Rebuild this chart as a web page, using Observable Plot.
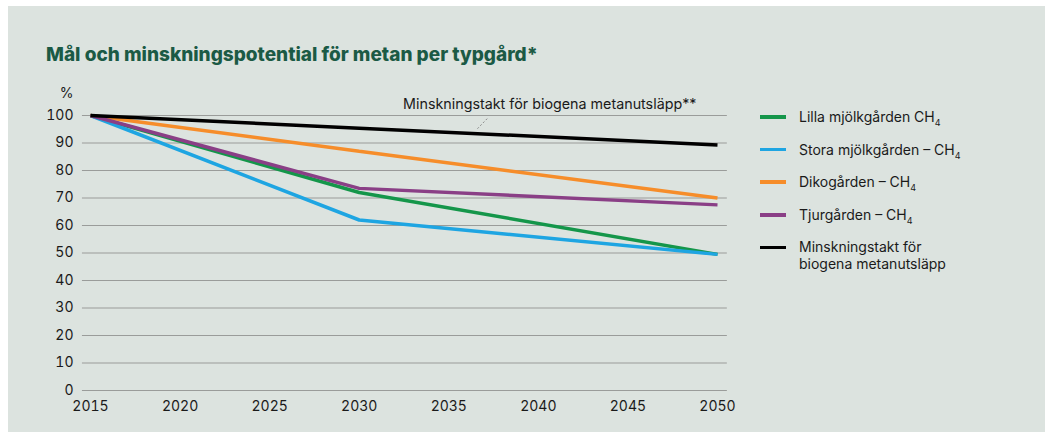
<!DOCTYPE html>
<html>
<head>
<meta charset="utf-8">
<script src="https://cdn.jsdelivr.net/npm/d3@7"></script>
<script src="https://cdn.jsdelivr.net/npm/@observablehq/plot@0.6"></script>
<style>
  html, body { margin: 0; padding: 0; background: #ffffff; }
  body { width: 1045px; height: 432px; position: relative; overflow: hidden;
         font-family: Inter, "Liberation Sans", Arial, sans-serif; }
  #panel { position: absolute; left: 8px; top: 6px; width: 1037px; height: 426px; background: #dce3df; }
  #title { position: absolute; left: 46px; top: 44px; font-size: 19px; letter-spacing: 0px; font-weight: 800;
           color: #1b5a45; line-height: 22px; white-space: nowrap; }
  #chart { position: absolute; left: 0; top: 0; }
  #legend { position: absolute; left: 0; top: 0; }
  .row { position: absolute; left: 760px; }
  .sw { position: absolute; left: 0; width: 26px; height: 3.5px; }
  .lt { position: absolute; left: 39px; font-size: 14px; line-height: 17px; color: #1a1a1a; white-space: nowrap; }
  .lt sub { font-size: 9px; vertical-align: -4px; line-height: 0; }
</style>
</head>
<body>
<div id="panel"></div>
<div id="title">Mål och minskningspotential för metan per typgård*</div>
<div id="chart"></div>
<div id="legend"></div>
<script>
// ---- data ----
const years = [2015, 2030, 2050];
const seriesNames = ["Lilla mjölkgården", "Stora mjölkgården", "Dikogården", "Tjurgården", "Minskningstakt"];
const lillaMjolkgarden = [100, 72, 49.5];
const storaMjolkgarden = [100, 62, 49.5];
const dikogarden = [100, 87, 70];
const tjurgarden = [100, 73.5, 67.5];
const minskningstakt = [100, 95.4, 89.3];
const seriesColors = ["#14964a", "#1ea5e2", "#f68d2a", "#8a3f86", "#000000"];
const legendLabels = ["Lilla mjölkgården CH", "Stora mjölkgården – CH", "Dikogården – CH", "Tjurgården – CH", "Minskningstakt för<br>biogena metanutsläpp"];
const legendSubs = ["4", "4", "4", "4", ""];
const yTicks = [0, 10, 20, 30, 40, 50, 60, 70, 80, 90, 100];
const xTicks = [2015, 2020, 2025, 2030, 2035, 2040, 2045, 2050];
const annotationText = ["Minskningstakt för biogena metanutsläpp**"];
const annotationPos = [{x: 2032.45, y: 104.2}];
const leaderLine = [{x1: 2036.6, y1: 95.2, x2: 2037.15, y2: 98.9}];

const allValues = [lillaMjolkgarden, storaMjolkgarden, dikogarden, tjurgarden, minskningstakt];
const rows = [];
allValues.forEach((vals, i) => vals.forEach((v, j) => rows.push({serie: seriesNames[i], year: years[j], value: v})));

const W = 760, H = 426;
const chart = Plot.plot({
  width: W,
  height: H,
  marginLeft: 90,
  marginRight: 43,
  marginTop: 115,
  marginBottom: 36,
  style: {background: "transparent", fontFamily: "Inter, Liberation Sans, Arial, sans-serif", fontSize: "14px", color: "#1a1a1a"},
  x: {domain: [2015, 2050]},
  y: {domain: [0, 100]},
  color: {domain: seriesNames, range: seriesColors},
  marks: [
    Plot.ruleY(yTicks, {x1: 2014.55, x2: 2050.55, stroke: "#9a9c9a", strokeWidth: 1.2}),
    Plot.axisY({ticks: yTicks, tickSize: 0, tickPadding: 17, label: null, tickFormat: d => String(d)}),
    Plot.axisX({ticks: xTicks, tickSize: 0, tickPadding: 11, label: null, tickFormat: d => String(d)}),
    Plot.text(["%"], {frameAnchor: "top-left", dx: -17, dy: -22, textAnchor: "end", lineAnchor: "middle", fontSize: 14}),
    Plot.line(rows, {x: "year", y: "value", z: "serie", stroke: "serie", strokeWidth: 3.5, strokeLinecap: "butt", strokeLinejoin: "miter"}),
    Plot.link(leaderLine, {x1: "x1", y1: "y1", x2: "x2", y2: "y2", stroke: "#8a8a8a", strokeWidth: 1, strokeDasharray: "2,2"}),
    Plot.text(annotationPos, {x: "x", y: "y", text: (d, i) => annotationText[i], textAnchor: "start", lineAnchor: "middle", fontSize: 14.3, fill: "#1a1a1a"})
  ]
});
document.getElementById("chart").appendChild(chart);

// ---- legend ----
const legend = document.getElementById("legend");
seriesNames.forEach((name, i) => {
  const cy = 117 + i * 32.6;
  const row = document.createElement("div");
  row.className = "row";
  row.style.top = cy + "px";
  const sw = document.createElement("div");
  sw.className = "sw";
  sw.style.top = "-1.75px";
  sw.style.background = seriesColors[i];
  const lt = document.createElement("div");
  lt.className = "lt";
  lt.style.top = "-9px";
  lt.innerHTML = legendLabels[i] + (legendSubs[i] ? "<sub>" + legendSubs[i] + "</sub>" : "");
  row.appendChild(sw);
  row.appendChild(lt);
  legend.appendChild(row);
});
</script>
</body>
</html>
